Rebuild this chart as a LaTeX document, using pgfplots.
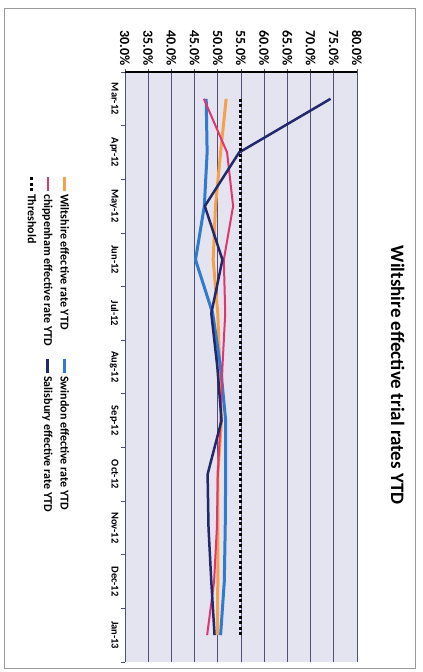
\documentclass[border=0pt]{standalone}
\usepackage{fontspec}
\setmainfont{Carlito}
\usepackage{pgfplots}
\pgfplotsset{compat=1.18}
\definecolor{wilts}{HTML}{F7A04A}
\definecolor{swin}{HTML}{2F7BD0}
\definecolor{chip}{HTML}{E0356E}
\definecolor{salis}{HTML}{22296B}
\definecolor{lav}{HTML}{E4E3F0}
\definecolor{gridc}{HTML}{4F4F78}
\begin{document}
\begin{tikzpicture}[rotate=-90, transform shape]
\path (0pt,0pt) rectangle (672pt,423pt);
\draw[gray!80, line width=1pt] (8pt,4pt) rectangle (668pt,415pt);
\begin{axis}[
  at={(72pt,125pt)}, anchor=south west,
  scale only axis, width=590pt, height=232pt,
  xmin=-0.5, xmax=10.5, ymin=30, ymax=80,
  xtick={0,...,10},
  xticklabels={Mar-12,Apr-12,May-12,Jun-12,Jul-12,Aug-12,Sep-12,Oct-12,Nov-12,Dec-12,Jan-13},
  major x tick style={draw=none},
  minor xtick={-0.5,0.5,...,10.5},
  minor x tick style={gridc, line width=0.7pt},
  minor tick length=4pt,
  ytick={30,35,...,80},
  yticklabels={30.0\%,35.0\%,40.0\%,45.0\%,50.0\%,55.0\%,60.0\%,65.0\%,70.0\%,75.0\%,80.0\%},
  ymajorgrids, grid style={gridc, line width=0.9pt},
  axis x line*=bottom, axis y line*=left,
  x axis line style={gridc, line width=0.9pt, -},
  y axis line style={black, line width=1.6pt, -},
  tick align=outside, tick pos=left, major tick length=3pt,
  major y tick style={gridc, line width=0.7pt},
  axis background/.style={fill=lav},
  yticklabel style={font=\bfseries\fontsize{14}{14}\selectfont},
  xticklabel style={font=\bfseries\fontsize{10.5}{12}\selectfont},
  title={Wiltshire effective trial rates YTD},
  title style={font=\bfseries\fontsize{19}{21}\selectfont, at={(0.514,1.15)}, anchor=center},
  legend columns=2,
  legend cell align=left,
  legend style={at={(0.17,-0.225)}, anchor=north west, draw=none, fill=none,
    font=\bfseries\fontsize{12}{13}\selectfont,
    nodes={inner sep=1.5pt},
    /tikz/every even column/.append style={column sep=10pt}, row sep=3.5pt},
  legend image code/.code={\draw[#1] (0pt,0pt) -- (14pt,0pt);},
]
\addplot[wilts, line width=3pt] coordinates {(0,51.8)(1,50.6)(2,49.5)(3,49.0)(4,50.0)(5,50.4)(6,50.8)(7,50.0)(8,50.0)(9,50.0)(10,49.9)};
\addlegendentry{Wiltshire effective rate YTD}
\addplot[swin, line width=3pt] coordinates {(0,47.5)(1,47.7)(2,47.1)(3,45.2)(4,48.9)(5,50.6)(6,51.7)(7,51.7)(8,51.6)(9,51.4)(10,50.6)};
\addlegendentry{Swindon effective rate YTD}
\addplot[chip, line width=2pt] coordinates {(0,47.0)(1,52.0)(2,53.3)(3,51.3)(4,51.6)(5,51.0)(6,50.6)(7,50.0)(8,49.8)(9,49.2)(10,47.7)};
\addlegendentry{chippenham effective rate YTD}
\addplot[salis, line width=2.5pt] coordinates {(0,74.3)(1,54.6)(2,47.2)(3,51.0)(4,48.6)(5,49.9)(6,50.8)(7,47.8)(8,48.0)(9,48.6)(10,49.3)};
\addlegendentry{Salisbury effective rate YTD}
\addplot[black, line width=3pt, dash pattern=on 3pt off 2.5pt] coordinates {(0,55)(1,55)(2,55)(3,55)(4,55)(5,55)(6,55)(7,55)(8,55)(9,55)(10,55)};
\addlegendentry{Threshold}
\end{axis}
\end{tikzpicture}
\end{document}
